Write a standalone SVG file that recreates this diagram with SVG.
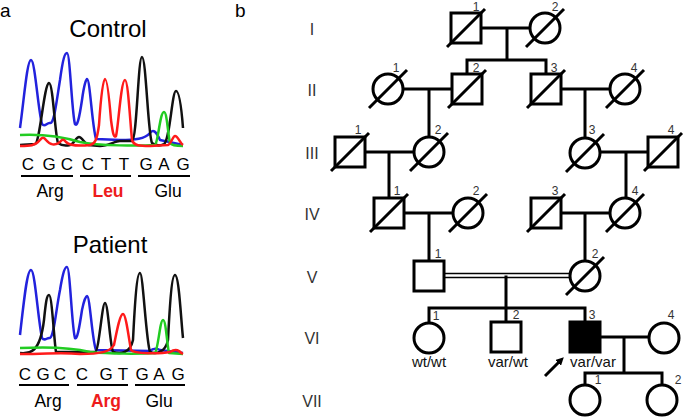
<svg xmlns="http://www.w3.org/2000/svg" width="685" height="420" viewBox="0 0 685 420">
<style>
text{font-family:"Liberation Sans",Arial,sans-serif;}
.sym{fill:#fff;stroke:#000;stroke-width:3;}
.aff{fill:#000;stroke:#000;stroke-width:3;}
.dec{stroke:#000;stroke-width:3;}
.ln{stroke:#000;stroke-width:3;fill:none;}
.num{font-size:12px;fill:#333;text-anchor:middle;}
.gen{font-size:16px;fill:#333;text-anchor:middle;}
.gt{font-size:15px;fill:#111;text-anchor:middle;}
.tr{fill:none;stroke-width:2.5;stroke-linejoin:round;}
.base{font-size:17px;fill:#000;text-anchor:middle;}
.aa{font-size:17.5px;fill:#000;text-anchor:middle;}
.red{fill:#ee1c1c;font-weight:bold;}
.ul{stroke:#000;stroke-width:2;}
</style>
<defs>
<marker id="ah" markerWidth="8" markerHeight="8" refX="4" refY="4" orient="auto" markerUnits="userSpaceOnUse" viewBox="0 0 8 8"><path d="M0,0 L8,4 L0,8 z" fill="#000"/></marker>
</defs>
<rect width="685" height="420" fill="#fff"/>

<!-- Panel a -->
<g id="panel-a">
<text x="0" y="17" font-size="19">a</text>
<text x="108" y="37" font-size="24" text-anchor="middle">Control</text>
<g id="control-trace">
<path class="tr" stroke="#2222dd" d="M20,128 C24,100 27,60 31,60 C35,60 38,110 42,124 C45,128 47,122 50,123 C54,124 56,105 60,80 C63,58 65,53 67,53 C70,53 72,115 75,124 C77,127 79,120 82,100 C84,85 86,79 87,79 C90,79 92,125 96,139 L120,140 C135,140 145,139 150,133 C153,129 156,131 160,140 L183,145"/>
<path class="tr" stroke="#111" d="M20,145 C25,145 30,144 35,144 C40,143 44,84 49,83 C53,83 55,135 58,143 C62,146 66,146 70,145 C74,144 76,137 79,137 C82,137 84,143 88,145 L100,146 C108,146 115,141 120,141 L132,141 C137,140 138,57 142,57 C146,57 148,135 152,143 C156,146 160,146 164,144 C170,140 172,91 176,91 C180,91 182,115 183,128"/>
<path class="tr" stroke="#22cc22" d="M20,135 C40,134 60,136 80,142 C100,146 140,146 155,145 C158,143 160,112 164,112 C167,112 168,135 170,143 C172,146 178,146 183,146"/>
<path class="tr" stroke="#ff1a1a" d="M20,146 C30,146 35,146 40,140 C42,137 44,137 46,140 C50,145 55,146 60,142 C62,139 64,139 66,142 C70,146 80,146 90,145 C95,144 97,140 99,125 C101,95 103,79 105,79 C107,79 109,95 111,120 C113,135 114,138 116,136 C118,130 121,80 125,80 C128,80 130,120 132,140 C134,146 140,146 150,146 L168,145 C171,144 173,136 175,136 C178,136 180,143 183,145"/>
</g>
<text class="base" x="28" y="170">C</text><text class="base" x="49" y="170">G</text><text class="base" x="67" y="170">C</text>
<text class="base" x="88" y="170">C</text><text class="base" x="106" y="170">T</text><text class="base" x="124" y="170">T</text>
<text class="base" x="146" y="170">G</text><text class="base" x="164" y="170">A</text><text class="base" x="183" y="170">G</text>
<line class="ul" x1="21" y1="176" x2="73" y2="176"/><line class="ul" x1="80" y1="176" x2="131" y2="176"/><line class="ul" x1="138" y1="176" x2="190" y2="176"/>
<text class="aa" x="50" y="197">Arg</text><text class="aa red" x="108" y="197">Leu</text><text class="aa" x="168" y="197">Glu</text>

<text x="110" y="253" font-size="24" text-anchor="middle">Patient</text>
<g id="patient-trace">
<path class="tr" stroke="#2222dd" d="M20,335 C24,300 27,270 31,270 C35,270 38,320 42,338 C45,342 47,337 50,338 C54,336 56,310 60,290 C63,272 65,267 67,267 C70,267 72,330 75,338 C77,340 79,330 82,310 C84,300 86,296 87,296 C90,296 92,340 96,350 L150,351 C153,348 156,348 160,350 L183,353"/>
<path class="tr" stroke="#111" d="M20,353 C30,354 40,353 44,320 C46,300 47,295 49,295 C52,295 54,340 56,352 L95,352 C99,352 102,303 105,303 C108,303 110,345 113,352 C120,354 130,354 133,340 C135,300 137,273 140,273 C143,273 146,340 150,352 C155,354 165,354 168,340 C170,300 172,275 175,275 C179,275 181,320 183,338"/>
<path class="tr" stroke="#22cc22" d="M20,348 C40,347 70,347 90,352 C110,354 140,354 155,353 C158,350 160,320 163,320 C166,320 167,345 169,353 L183,354"/>
<path class="tr" stroke="#ff1a1a" d="M20,354 C50,354 60,352 80,354 C100,354 110,352 114,345 C117,330 120,314 123,314 C126,314 129,340 131,350 C134,354 160,354 170,352 C173,350 176,349 179,351 C181,353 183,354 183,354"/>
</g>
<text class="base" x="25" y="380">C</text><text class="base" x="43" y="380">G</text><text class="base" x="60" y="380">C</text>
<text class="base" x="82" y="380">C</text><text class="base" x="106" y="380" fill="#ee1c1c">G</text><text class="base" x="123" y="380">T</text>
<text class="base" x="142" y="380">G</text><text class="base" x="159" y="380">A</text><text class="base" x="178" y="380">G</text>
<line class="ul" x1="19" y1="385" x2="69" y2="385"/><line class="ul" x1="77" y1="385" x2="128" y2="385"/><line class="ul" x1="135" y1="385" x2="185" y2="385"/>
<text class="aa" x="48" y="407">Arg</text><text class="aa red" x="106" y="407">Arg</text><text class="aa" x="159" y="407">Glu</text>
</g>

<!-- Panel b -->
<text x="235" y="17" font-size="19">b</text>
<g id="generations">
<text class="gen" x="312" y="35">I</text>
<text class="gen" x="312" y="96">II</text>
<text class="gen" x="312" y="159">III</text>
<text class="gen" x="312" y="220">IV</text>
<text class="gen" x="312" y="283">V</text>
<text class="gen" x="312" y="344">VI</text>
<text class="gen" x="312" y="407">VII</text>
</g>

<g id="connectors">
<path class="ln" d="M481,28 H530 M507,28 V60 M465.5,60 H547.5 M467,60 V74 M546,60 V74"/>
<path class="ln" d="M403,89 H452 M429,89 V137 M561,89 H610 M585,89 V138"/>
<path class="ln" d="M365,152 H414 M389,152 V198 M600,152 H648 M626,152 V198"/>
<path class="ln" d="M404,213 H453 M429,213 V261 M561,213 H610 M585,213 V261"/>
<path d="M444,273.5 H571 M444,277.5 H571" stroke="#000" stroke-width="1.5" fill="none"/>
<path class="ln" d="M506,275.5 V308 M427.5,308 H586.5 M429,308 V323 M506,308 V322 M585,308 V322"/>
<path class="ln" d="M600,337 H649 M624,337 V373 M583.5,373 H663.5 M585,373 V385 M662,373 V385"/>
<line x1="545" y1="376" x2="561" y2="360" stroke="#000" stroke-width="3" marker-end="url(#ah)"/>
</g>

<g id="I-1"><rect class="sym" x="451" y="13" width="30" height="30"/><line class="dec" x1="447" y1="47" x2="485" y2="9"/><text class="num" x="476" y="11">1</text></g>
<g id="I-2"><circle class="sym" cx="545" cy="28" r="15"/><line class="dec" x1="526" y1="47" x2="564" y2="9"/><text class="num" x="555" y="11">2</text></g>

<g id="II-1"><circle class="sym" cx="388" cy="89" r="15"/><line class="dec" x1="369" y1="108" x2="407" y2="70"/><text class="num" x="396" y="72">1</text></g>
<g id="II-2"><rect class="sym" x="452" y="74" width="30" height="30"/><line class="dec" x1="448" y1="108" x2="486" y2="70"/><text class="num" x="476" y="72">2</text></g>
<g id="II-3"><rect class="sym" x="531" y="74" width="30" height="30"/><line class="dec" x1="527" y1="108" x2="565" y2="70"/><text class="num" x="554" y="72">3</text></g>
<g id="II-4"><circle class="sym" cx="625" cy="89" r="15"/><line class="dec" x1="606" y1="108" x2="644" y2="70"/><text class="num" x="634" y="72">4</text></g>

<g id="III-1"><rect class="sym" x="335" y="137" width="30" height="30"/><line class="dec" x1="331" y1="171" x2="369" y2="133"/><text class="num" x="358" y="134">1</text></g>
<g id="III-2"><circle class="sym" cx="429" cy="152" r="15"/><line class="dec" x1="410" y1="171" x2="448" y2="133"/><text class="num" x="438" y="134">2</text></g>
<g id="III-3"><circle class="sym" cx="585" cy="153" r="15"/><line class="dec" x1="566" y1="172" x2="604" y2="134"/><text class="num" x="592" y="134">3</text></g>
<g id="III-4"><rect class="sym" x="648" y="137" width="30" height="30"/><line class="dec" x1="644" y1="171" x2="682" y2="133"/><text class="num" x="671" y="134">4</text></g>

<g id="IV-1"><rect class="sym" x="374" y="198" width="30" height="30"/><line class="dec" x1="370" y1="232" x2="408" y2="194"/><text class="num" x="397" y="195">1</text></g>
<g id="IV-2"><circle class="sym" cx="468" cy="213" r="15"/><line class="dec" x1="449" y1="232" x2="487" y2="194"/><text class="num" x="476" y="195">2</text></g>
<g id="IV-3"><rect class="sym" x="531" y="198" width="30" height="30"/><line class="dec" x1="527" y1="232" x2="565" y2="194"/><text class="num" x="555" y="195">3</text></g>
<g id="IV-4"><circle class="sym" cx="625" cy="213" r="15"/><line class="dec" x1="606" y1="232" x2="644" y2="194"/><text class="num" x="635" y="195">4</text></g>

<g id="V-1"><rect class="sym" x="414" y="261" width="30" height="30"/><text class="num" x="438" y="258">1</text></g>
<g id="V-2"><circle class="sym" cx="585" cy="276" r="15"/><line class="dec" x1="566" y1="295" x2="604" y2="257"/><text class="num" x="595" y="258">2</text></g>

<g id="VI-1"><circle class="sym" cx="429" cy="338" r="15"/><text class="num" x="436" y="320">1</text><text class="gt" x="429" y="367">wt/wt</text></g>
<g id="VI-2"><rect class="sym" x="491" y="322" width="30" height="30"/><text class="num" x="516" y="319">2</text><text class="gt" x="508" y="367">var/wt</text></g>
<g id="VI-3"><rect class="aff" x="570" y="322" width="30" height="30"/><text class="num" x="592" y="319">3</text><text class="gt" x="593" y="367">var/var</text></g>
<g id="VI-4"><circle class="sym" cx="664" cy="338" r="15"/><text class="num" x="671" y="319">4</text></g>

<g id="VII-1"><circle class="sym" cx="585" cy="400" r="15"/><text class="num" x="598" y="384">1</text></g>
<g id="VII-2"><circle class="sym" cx="662" cy="400" r="15"/><text class="num" x="678" y="384">2</text></g>
</svg>
